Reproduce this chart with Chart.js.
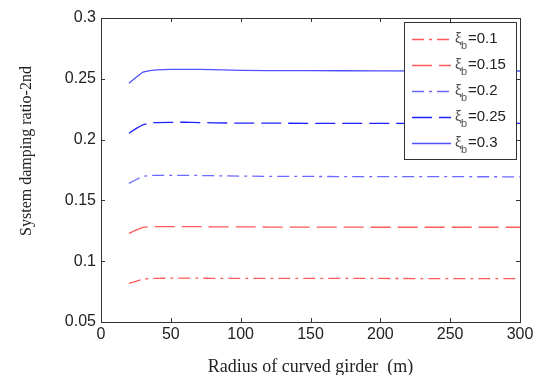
<!DOCTYPE html>
<html><head><meta charset="utf-8">
<script src="https://cdn.jsdelivr.net/npm/chart.js@4.4.1/dist/chart.umd.min.js"></script>
<style>html,body{margin:0;padding:0;background:#fff;}#wrap{width:537px;height:375px;position:relative;}</style>
</head><body><div id="wrap"><canvas id="c" width="537" height="375"></canvas></div>
<script>
const radius = [20,25,30,35,40,50,60,70,80,100,120,150,175,200,250,300];
const xi01  = [0.0818,0.0835,0.0852,0.0857,0.0859,0.0860,0.0860,0.0860,0.0859,0.0859,0.0859,0.0859,0.0858,0.0858,0.0857,0.0857];
const xi015 = [0.1229,0.1255,0.1278,0.1284,0.1285,0.1285,0.1285,0.1284,0.1283,0.1282,0.1281,0.1280,0.1280,0.1279,0.1279,0.1279];
const xi02  = [0.1640,0.1670,0.1698,0.1705,0.1706,0.1706,0.1706,0.1705,0.1703,0.1700,0.1698,0.1697,0.1696,0.1695,0.1695,0.1694];
const xi025 = [0.2052,0.2090,0.2122,0.2138,0.2140,0.2142,0.2143,0.2140,0.2138,0.2135,0.2135,0.2134,0.2134,0.2133,0.2133,0.2133];
const xi03  = [0.2463,0.2510,0.2555,0.2567,0.2573,0.2577,0.2577,0.2577,0.2575,0.2570,0.2568,0.2567,0.2566,0.2565,0.2564,0.2564];
const seriesLabels = ['0.1','0.15','0.2','0.25','0.3'];
const xTicks = [0,50,100,150,200,250,300];
const yTicks = [0.05,0.1,0.15,0.2,0.25,0.3];

const RED = '#ff5a5a', BLUE1 = '#6a6aff', BLUE2 = '#2020ff', BLUE3 = '#5050ff';
const DASHDOT = [12,5,3,5], DASHED = [20,7];
const styles = [
  {c:RED, d:DASHDOT}, {c:RED, d:DASHED}, {c:BLUE1, d:DASHDOT}, {c:BLUE2, d:DASHED}, {c:BLUE3, d:[]}
];
const values = [xi01, xi015, xi02, xi025, xi03];
const datasets = values.map((v,i)=>({
  label: 'ξb=' + seriesLabels[i],
  data: radius.map((r,j)=>({x:r, y:v[j]})),
  borderColor: styles[i].c, borderDash: styles[i].d, borderWidth: 1.3,
  pointRadius: 0, fill:false, tension:0
}));

const framePlugin = {
  id:'frame',
  afterDraw(chart){
    const ctx = chart.ctx, a = chart.chartArea;
    const xs = chart.scales.x, ys = chart.scales.y;
    ctx.save();
    ctx.strokeStyle = '#333'; ctx.lineWidth = 1;
    ctx.setLineDash([]);
    ctx.strokeRect(Math.round(a.left)+0.5, Math.round(a.top)+0.5, Math.round(a.right-a.left), Math.round(a.bottom-a.top));
    ctx.beginPath();
    xTicks.forEach(t=>{
      const px = Math.round(xs.getPixelForValue(t))+0.5;
      ctx.moveTo(px,a.bottom); ctx.lineTo(px,a.bottom-4);
      ctx.moveTo(px,a.top); ctx.lineTo(px,a.top+4);
    });
    yTicks.forEach(t=>{
      const py = Math.round(ys.getPixelForValue(t))+0.5;
      ctx.moveTo(a.left,py); ctx.lineTo(a.left+4,py);
      ctx.moveTo(a.right,py); ctx.lineTo(a.right-4,py);
    });
    ctx.stroke();
    // y axis title
    ctx.fillStyle = '#222';
    ctx.font = '16px "Liberation Serif", serif';
    ctx.translate(27,151); ctx.rotate(-Math.PI/2);
    ctx.textAlign='center'; ctx.textBaseline='middle';
    ctx.fillText('System damping ratio-2nd',0,0);
    ctx.restore();
    // legend
    ctx.save();
    const lx=404, ly=22, lw=112, lh=137;
    ctx.fillStyle='#fff'; ctx.fillRect(lx,ly,lw,lh);
    ctx.strokeStyle='#333'; ctx.lineWidth=1;
    ctx.strokeRect(lx+0.5,ly+0.5,lw,lh);
    chart.data.datasets.forEach((ds,i)=>{
      const y = ly + 17 + i*26;
      ctx.strokeStyle = ds.borderColor; ctx.lineWidth=1.3;
      ctx.setLineDash(ds.borderDash);
      ctx.beginPath(); ctx.moveTo(412,y+0.5); ctx.lineTo(451,y+0.5); ctx.stroke();
      ctx.setLineDash([]);
      ctx.fillStyle='#222'; ctx.textBaseline='alphabetic'; ctx.textAlign='left';
      ctx.font='15px "Liberation Sans", Arial, sans-serif';
      ctx.fillStyle='#555';
      ctx.fillText('ξ',455,y+4);
      ctx.font='11px "Liberation Sans", Arial, sans-serif';
      ctx.fillText('b',461,y+10);
      ctx.fillStyle='#222';
      ctx.font='15px "Liberation Sans", Arial, sans-serif';
      ctx.fillText('=' + seriesLabels[i],468,y+4);
    });
    ctx.restore();
  }
};

new Chart(document.getElementById('c'), {
  type:'line',
  data:{datasets},
  options:{
    responsive:false, animation:false,
    layout:{padding:{top:18,right:17,left:0,bottom:0}},
    plugins:{legend:{display:false}, tooltip:{enabled:false}},
    scales:{
      x:{type:'linear', min:0, max:300,
        grid:{display:false, drawTicks:false}, border:{display:false},
        afterBuildTicks(s){ s.ticks = xTicks.map(v=>({value:v})); },
        afterFit(s){ s.height = 53; },
        ticks:{padding:3, color:'#222', font:{family:'"Liberation Sans", Arial, sans-serif', size:16}, maxRotation:0, autoSkip:false},
        title:{display:true, text:'Radius of curved girder  (m)', color:'#222', font:{family:'"Liberation Serif", serif', size:18}, padding:{top:8,bottom:-3}}
      },
      y:{type:'linear', min:0.05, max:0.3,
        grid:{display:false, drawTicks:false}, border:{display:false},
        afterBuildTicks(s){ s.ticks = yTicks.map(v=>({value:v})); },
        afterFit(s){ s.width = 101; },
        ticks:{padding:5, color:'#222', font:{family:'"Liberation Sans", Arial, sans-serif', size:16}, callback:v=>String(+v.toFixed(2))}
      }
    }
  },
  plugins:[framePlugin]
});
</script></body></html>
